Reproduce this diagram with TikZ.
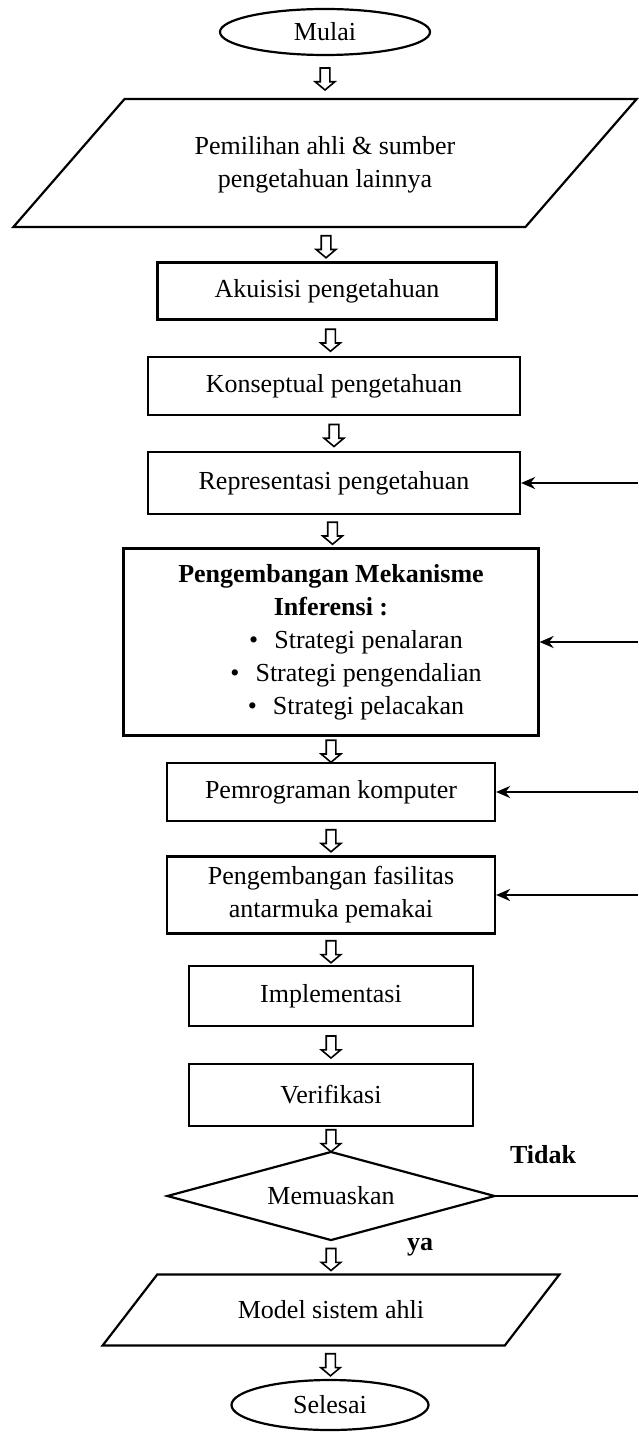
\documentclass[tikz,border=0pt]{standalone}
\usepackage{fontspec}
\setmainfont{Liberation Serif}
\usetikzlibrary{shapes.geometric,shapes.arrows,arrows.meta}

\begin{document}
\begin{tikzpicture}[x=0.5pt,y=-0.5pt,
  font=\fontsize{13}{16.5}\selectfont,
  kotak/.style={draw, line width=1.1pt, align=center, inner sep=2pt},
  jajar/.style={draw, line width=1.1pt, align=center, trapezium, trapezium stretches=true, inner sep=0pt},
  oval/.style={draw, line width=1.1pt, ellipse},
  turun/.style={draw, line width=0.8pt, single arrow, shape border rotate=270, single arrow head extend=2.5pt, single arrow tip angle=100, inner sep=2pt, minimum height=11pt},
  balik/.style={line width=1.1pt, -{Stealth[length=7pt,width=6pt]}},
  tebal/.style={font=\fontsize{13}{16.5}\selectfont\bfseries}]
\useasboundingbox (0,0) rectangle (638,1433);
\coordinate (tepi) at (638,0);
\node[oval, minimum width=105pt, minimum height=23pt] (mulai) at (325,32) {Mulai};
\node[jajar, trapezium left angle=39.5, trapezium right angle=140.5, minimum width=312pt, minimum height=64pt] (pilih) at (325,163) {\\[-6pt]Pemilihan ahli \& sumber\\pengetahuan lainnya};
\node[kotak, minimum width=169.5pt, minimum height=28.5pt] (akuisisi) at (327,291) {Akuisisi pengetahuan};
\node[kotak, minimum width=186pt, minimum height=29pt] (konseptual) at (334,386) {Konseptual pengetahuan};
\node[kotak, minimum width=186pt, minimum height=31pt] (representasi) at (334,483) {Representasi pengetahuan};
\node[kotak, minimum width=207.5pt, minimum height=93.5pt] (mekanisme) at (331,642) {\textbf{Pengembangan Mekanisme}\\\textbf{Inferensi :}\\
  \hspace*{25pt}\textbullet\hspace{8pt}Strategi penalaran\\
  \hspace*{25pt}\textbullet\hspace{8pt}Strategi pengendalian\\
  \hspace*{25pt}\textbullet\hspace{8pt}Strategi pelacakan};
\node[kotak, minimum width=164pt, minimum height=29pt] (pemrograman) at (331,792) {Pemrograman komputer};
\node[kotak, minimum width=164pt, minimum height=38.5pt] (fasilitas) at (331,895) {Pengembangan fasilitas\\antarmuka pemakai};
\node[kotak, minimum width=142pt, minimum height=30pt] (implementasi) at (331,996) {Implementasi};
\node[kotak, minimum width=142pt, minimum height=31pt] (verifikasi) at (331,1095) {Verifikasi};
\node[draw, line width=1.1pt, diamond, aspect=3.7, inner sep=0pt, minimum width=164pt, minimum height=44.5pt] (memuaskan) at (331,1196) {Memuaskan};
\node[jajar, trapezium left angle=32, trapezium right angle=148, minimum width=228.5pt, minimum height=35.5pt] (model) at (331,1310) {Model sistem ahli};
\node[oval, minimum width=98.5pt, minimum height=25pt] (selesai) at (330,1405) {Selesai};
\node[tebal] (tidak) at (543,1155) {Tidak};
\node[tebal] (ya) at (420,1247) {ya};
\foreach \a/\b in {mulai/pilih,pilih/akuisisi,akuisisi/konseptual,konseptual/representasi,representasi/mekanisme,mekanisme/pemrograman,pemrograman/fasilitas,fasilitas/implementasi,implementasi/verifikasi,verifikasi/memuaskan,memuaskan/model,model/selesai}
  \path (\a.south) -- node[turun]{} (\b.north);
\foreach \n in {representasi,mekanisme,pemrograman,fasilitas}
  \draw[balik] (\n.east -| tepi) -- (\n.east);
\draw[line width=1.1pt] (memuaskan.east) -- (memuaskan.east -| tepi);
\end{tikzpicture}
\end{document}
